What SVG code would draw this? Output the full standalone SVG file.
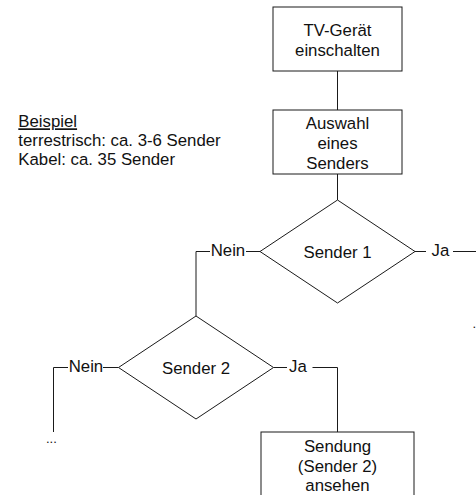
<svg xmlns="http://www.w3.org/2000/svg" width="476" height="495" viewBox="0 0 476 495">
  <style>
    .shape { fill: #ffffff; stroke: #1a1a1a; stroke-width: 1; }
    .wire { fill: none; stroke: #1a1a1a; stroke-width: 1; }
    text { font-family: "Liberation Sans", Arial, sans-serif; font-size: 16.8px; fill: #111111; }
    .c { text-anchor: middle; }
    .more { font-size: 13px; }
  </style>
  <rect width="476" height="495" fill="#ffffff"/>

  <!-- connectors -->
  <g id="connectors">
    <line class="wire" x1="337.5" y1="71" x2="337.5" y2="110"/>
    <line class="wire" x1="337.5" y1="174" x2="337.5" y2="200"/>
    <!-- Sender 1: Nein -->
    <polyline class="wire" points="260,251.5 246,251.5"/>
    <polyline class="wire" points="210,251.5 196,251.5 196,316"/>
    <!-- Sender 1: Ja -->
    <polyline class="wire" points="415,251.5 426,251.5"/>
    <polyline class="wire" points="453,251.5 476,251.5"/>
    <!-- Sender 2: Nein -->
    <polyline class="wire" points="118.5,367.5 103,367.5"/>
    <polyline class="wire" points="68,367.5 53.5,367.5 53.5,432"/>
    <!-- Sender 2: Ja -->
    <polyline class="wire" points="273.5,367.5 287,367.5"/>
    <polyline class="wire" points="312.5,367.5 337.5,367.5 337.5,432"/>
  </g>

  <!-- side note -->
  <g id="note">
    <text x="18.3" y="127.3" text-decoration="underline">Beispiel</text>
    <text x="18.3" y="146">terrestrisch: ca. 3-6 Sender</text>
    <text x="18.3" y="165">Kabel: ca. 35 Sender</text>
  </g>

  <g id="tv-einschalten">
    <rect class="shape" x="273" y="7" width="129" height="64"/>
    <text class="c" x="337.5" y="36">TV-Gerät</text>
    <text class="c" x="337.5" y="56.3">einschalten</text>
  </g>

  <g id="auswahl">
    <rect class="shape" x="273" y="110" width="129" height="64"/>
    <text class="c" x="337.5" y="128.5">Auswahl</text>
    <text class="c" x="337.5" y="148.5">eines</text>
    <text class="c" x="337.5" y="168.5">Senders</text>
  </g>

  <g id="sender1">
    <polygon class="shape" points="337.5,200 415,251.5 337.5,303 260,251.5"/>
    <text class="c" x="337.5" y="258">Sender 1</text>
    <text x="210.7" y="255.5">Nein</text>
    <text x="431.5" y="255.5">Ja</text>
    <text class="more" x="472.5" y="327.5">...</text>
  </g>

  <g id="sender2">
    <polygon class="shape" points="196,316 273.5,367.5 196,419 118.5,367.5"/>
    <text class="c" x="196" y="374">Sender 2</text>
    <text x="68.7" y="371.5">Nein</text>
    <text x="289" y="371.5">Ja</text>
    <text class="more" x="46" y="442.5">...</text>
  </g>

  <g id="sendung-ansehen">
    <rect class="shape" x="261" y="432" width="153" height="80"/>
    <text class="c" x="337.5" y="452">Sendung</text>
    <text class="c" x="337.5" y="472">(Sender 2)</text>
    <text class="c" x="337.5" y="491">ansehen</text>
  </g>
</svg>
